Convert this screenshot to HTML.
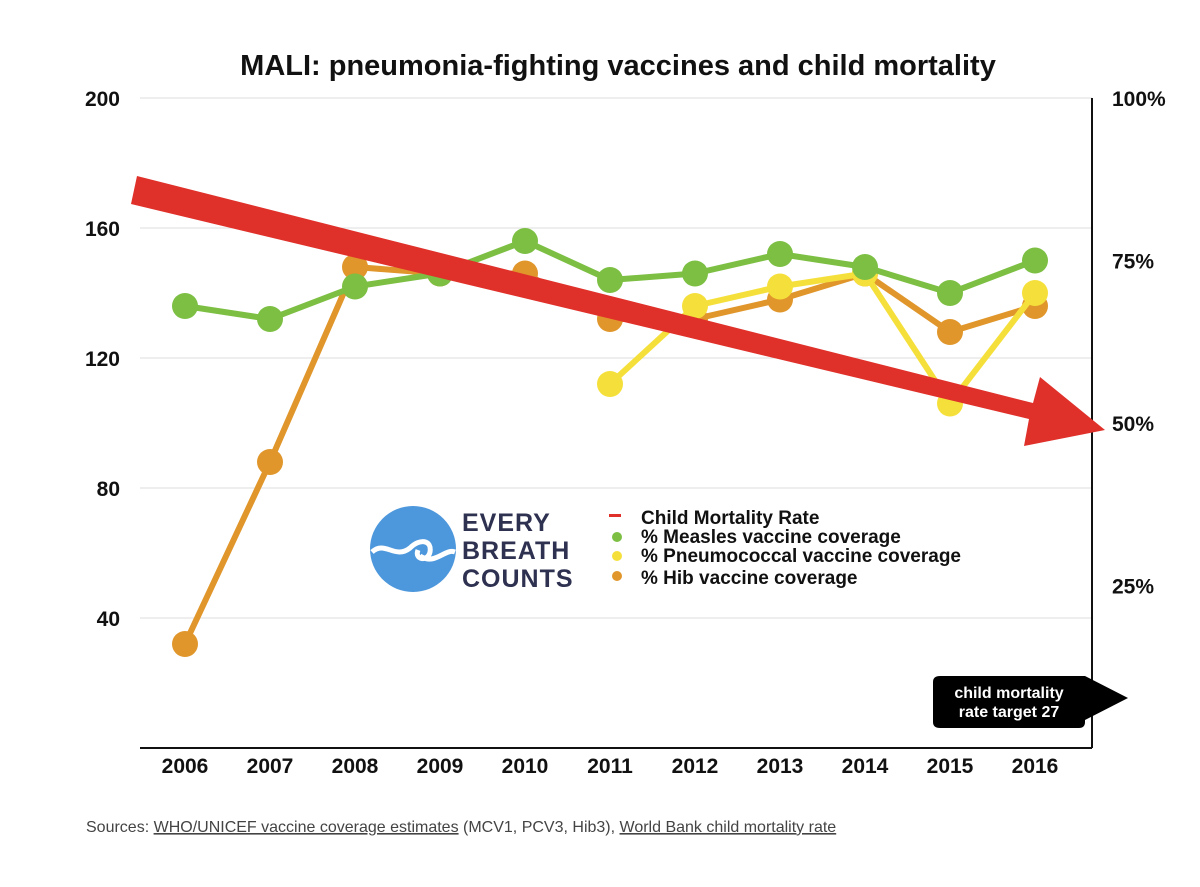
<!DOCTYPE html>
<html><head><meta charset="utf-8"><style>
body{margin:0;background:#fff;width:1200px;height:882px;overflow:hidden;font-family:"Liberation Sans",sans-serif}
</style></head><body>
<svg id="c" width="1200" height="882" viewBox="0 0 1200 882">
<text x="618" y="75" text-anchor="middle" font-size="29" font-weight="bold" fill="#111">MALI: pneumonia-fighting vaccines and child mortality</text>
<g id="grid"></g>
<line x1="1092" y1="98" x2="1092" y2="748" stroke="#111" stroke-width="2"/>
<line x1="140" y1="748" x2="1092" y2="748" stroke="#111" stroke-width="2"/>
<g id="series"></g>
<g>
<polygon points="137,176 1033,403 1040,377 1105,430 1024,446 1029,419 131,204" fill="#e0302a"/>
</g>
<g>
<circle cx="413" cy="549" r="43" fill="#4d97dc"/>
<path d="M372,552 C385,540 395,560 410,548 C420,538 432,540 430,552 C428,562 414,560 418,550 M420,556 C435,566 445,548 455,552" stroke="#fff" stroke-width="5" fill="none"/>
<text font-size="25" font-weight="bold" fill="#2e3150" letter-spacing="1">
<tspan x="462" y="531">EVERY</tspan><tspan x="462" y="559">BREATH</tspan><tspan x="462" y="587">COUNTS</tspan></text>
<rect x="609" y="514" width="12" height="3" fill="#e0302a"/>
<circle cx="617" cy="537" r="5" fill="#7cbf43"/>
<circle cx="617" cy="556" r="5" fill="#f5e03b"/>
<circle cx="617" cy="576" r="5" fill="#e0962b"/>
<text font-size="19" fill="#111" font-weight="bold">
<tspan x="641" y="524">Child Mortality Rate</tspan>
<tspan x="641" y="543">% Measles vaccine coverage</tspan>
<tspan x="641" y="562">% Pneumococcal vaccine coverage</tspan>
<tspan x="641" y="584">% Hib vaccine coverage</tspan></text>
</g>
<g>
<path d="M940,676 H1085 L1128,698 L1085,720 V722 Q1085,728 1079,728 H940 Q933,728 933,722 V682 Q933,676 940,676 Z" fill="#000"/>
<text x="1009" y="698" text-anchor="middle" font-size="16" font-weight="bold" fill="#fff">child mortality</text>
<text x="1009" y="717" text-anchor="middle" font-size="16" font-weight="bold" fill="#fff">rate target 27</text>
</g>
<text x="86" y="832" font-size="16" fill="#444">Sources: <tspan text-decoration="underline">WHO/UNICEF vaccine coverage estimates</tspan> (MCV1, PCV3, Hib3), <tspan text-decoration="underline">World Bank child mortality rate</tspan></text>
</svg>
<script>
const years=[2006,2007,2008,2009,2010,2011,2012,2013,2014,2015,2016];
const measles=[68,66,71,73,78,72,73,76,74,70,75];
const pneumo=[null,null,null,null,null,56,68,71,73,53,70];
const hib=[16,44,74,73,73,66,66,69,73,64,68];
const leftTicks=[40,80,120,160,200];
const rightTicks=["25%","50%","75%","100%"];
const rightVals=[25,50,75,100];
const NS="http://www.w3.org/2000/svg";
const X=y=>185+(y-2006)*85;
const YL=v=>748-v*3.25;
const YR=p=>748-p*6.5;
function mk(t,a,p){const e=document.createElementNS(NS,t);for(const k in a)e.setAttribute(k,a[k]);p.appendChild(e);return e;}
const g=document.getElementById('grid');
leftTicks.forEach(v=>{
 const l=mk('line',{x1:140,x2:1092,y1:YL(v),y2:YL(v),stroke:'#ddd','stroke-width':1},g);
 
 
 const t=mk('text',{x:120,y:YL(v)+8,'text-anchor':'end','font-size':21,'font-weight':'bold',fill:'#111'},g);
 t.textContent=v;
 
 
});
rightVals.forEach((v,i)=>{
 const t=mk('text',{x:1112,y:YR(v)+8,'font-size':21,'font-weight':'bold',fill:'#111'},g);
 t.textContent=rightTicks[i];
 
 
});
years.forEach(y=>{
 const t=mk('text',{x:X(y),y:773,'text-anchor':'middle','font-size':21,'font-weight':'bold',fill:'#111'},g);
 t.textContent=y;
 
 
});
const s=document.getElementById('series');
function draw(arr,color,name){
 const pts=[];arr.forEach((v,i)=>{if(v!=null)pts.push([X(years[i]),YR(v)]);});
 const p=mk('polyline',{points:pts.map(q=>q.join(',')).join(' '),fill:'none',stroke:color,'stroke-width':6,'stroke-linejoin':'round'},s);
 
 
 pts.forEach(q=>{
  const c=mk('circle',{cx:q[0],cy:q[1],r:13,fill:color},s);
  
  
 });
}
draw(hib,'#e0962b','hib');
draw(pneumo,'#f5e03b','pneumo');
draw(measles,'#7cbf43','measles');
</script>
</body></html>
